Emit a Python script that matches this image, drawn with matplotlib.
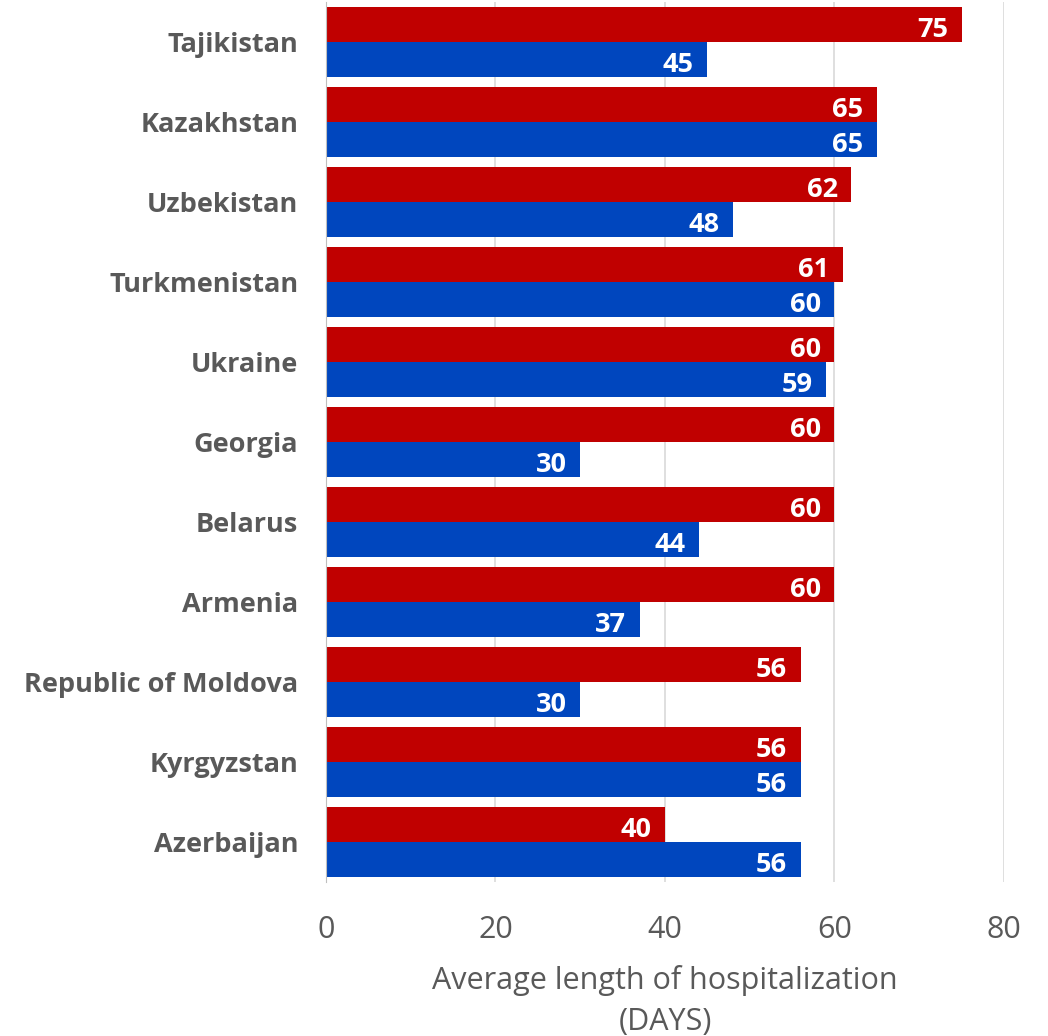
import matplotlib.pyplot as plt
import numpy as np

plt.rcParams['font.family'] = ['Open Sans', 'DejaVu Sans']

countries = ["Tajikistan", "Kazakhstan", "Uzbekistan", "Turkmenistan", "Ukraine",
             "Georgia", "Belarus", "Armenia", "Republic of Moldova", "Kyrgyzstan",
             "Azerbaijan"]
red_vals = [75, 65, 62, 61, 60, 60, 60, 60, 56, 56, 40]
blue_vals = [45, 65, 48, 60, 59, 30, 44, 37, 30, 56, 56]
xticks = [0, 20, 40, 60, 80]

red = "#C00000"
blue = "#0046BE"
grey_txt = "#595959"

fig = plt.figure(figsize=(10.48, 10.36), dpi=100)
ax = fig.add_axes([0.311, 0.1486, 0.647, 0.8495])

y = np.arange(len(countries))
h = 0.4375
ax.barh(y - h / 2, red_vals, height=h, color=red, zorder=3)
ax.barh(y + h / 2, blue_vals, height=h, color=blue, zorder=3)

# value labels sit a touch below the bar centre, like the original
dy = 0.035
for i in range(len(countries)):
    ax.text(red_vals[i] - 1.6, y[i] - h / 2 + dy, str(red_vals[i]), color="white",
            fontsize=19.5, fontweight="bold", ha="right", va="center_baseline", zorder=4)
    ax.text(blue_vals[i] - 1.6, y[i] + h / 2 + dy, str(blue_vals[i]), color="white",
            fontsize=19.5, fontweight="bold", ha="right", va="center_baseline", zorder=4)

ax.set_ylim(len(countries) - 0.5, -0.5)
ax.set_xlim(0, 80)
ax.set_yticks(y)
ax.set_yticklabels(countries, fontsize=19.5, fontweight="bold", color=grey_txt)
ax.set_xticks(xticks)
ax.set_xticklabels([str(t) for t in xticks], fontsize=22, color=grey_txt)
ax.tick_params(axis="y", length=0, pad=20)
ax.tick_params(axis="x", length=0, pad=24)
ax.grid(axis="x", color="#D9D9D9", linewidth=1.2, zorder=0)
for s in ["top", "right", "bottom"]:
    ax.spines[s].set_visible(False)
ax.spines["left"].set_color("#BFBFBF")
ax.spines["left"].set_zorder(5)

ax.set_xlabel("Average length of hospitalization\n(DAYS)", fontsize=22,
              color=grey_txt, labelpad=14, linespacing=1.5)

fig.savefig("out.png", dpi=100)
